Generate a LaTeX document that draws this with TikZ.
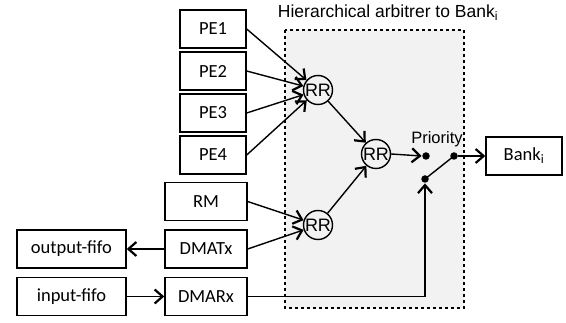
\documentclass[tikz,border=0pt]{standalone}
\usepackage{fontspec}
\setmainfont{Carlito}
\newfontfamily\arialfont{Liberation Sans}
\usetikzlibrary{arrows.meta}

\begin{document}
\begin{tikzpicture}[x=1pt,y=-1pt,line width=1.4pt,
  blk/.style={draw,minimum height=38pt,inner sep=0pt,font=\fontsize{18.5}{20}\selectfont},
  rr/.style={circle,draw,minimum size=29pt,inner sep=0pt,font=\arialfont\fontsize{18}{20}\selectfont},
  dot/.style={circle,fill,inner sep=0pt,minimum size=7.5pt},
  arr/.style={-{Straight Barb[length=8pt,width=14pt,line width=2.2pt]}}]
\useasboundingbox (0,0) rectangle (566,323);

% arbiter frame
\draw[dashed,line width=1.1pt,fill=black!5] (285,30) rectangle (464,308);
\node[font=\arialfont\fontsize{17.5}{19}\selectfont] (title) at (388,13) {Hierarchical arbitrer to Bank\textsubscript{i}};

% sources
\node[blk,minimum width=66pt] (pe1) at (213,29) {PE1};
\node[blk,minimum width=66pt] (pe2) at (213,71) {PE2};
\node[blk,minimum width=66pt] (pe3) at (213,113) {PE3};
\node[blk,minimum width=66pt] (pe4) at (213,155) {PE4};
\node[blk,minimum width=82pt] (rm) at (206,201.5) {RM};
\node[blk,minimum width=82pt] (dmatx) at (206,249) {DMATx};
\node[blk,minimum width=82pt] (dmarx) at (206,296.5) {DMARx};
\node[blk,minimum width=109pt] (outfifo) at (71.5,249) {output-fifo};
\node[blk,minimum width=109pt] (infifo) at (71.5,296.5) {input-fifo};
\node[blk,minimum width=76pt] (bank) at (524,156) {Bank\textsubscript{i}};

% round robins
\node[rr] (rra) at (318,90) {RR};
\node[rr] (rrb) at (376,154) {RR};
\node[rr] (rrc) at (318,225) {RR};

% priority switch
\node[font=\arialfont\fontsize{16.5}{18}\selectfont] (prio) at (437,139) {Priority};
\node[dot] (pa) at (426,156) {};
\node[dot] (pb) at (454,156) {};
\node[dot] (pc) at (425,179) {};

\draw[arr] (pe1.east) -- (rra);
\draw[arr] (pe2.east) -- (rra);
\draw[arr] (pe3.east) -- (rra);
\draw[arr] (pe4.east) -- (rra);
\draw[arr] (rm.east) -- (rrc);
\draw[arr] (dmatx.east) -- (rrc);
\draw[arr] (rra) -- (rrb);
\draw[arr] (rrc) -- (rrb);
\draw[arr] (rrb.east) -- (pa.west);
\draw (pc.center) -- (pb.center);
\draw[arr] (pb.east) -- (bank.west);
\draw[arr] (dmarx.east) -| (pc.south);
\draw[arr] (dmatx.west) -- (outfifo.east);
\draw[arr] (infifo.east) -- (dmarx.west);

\end{tikzpicture}
\end{document}
